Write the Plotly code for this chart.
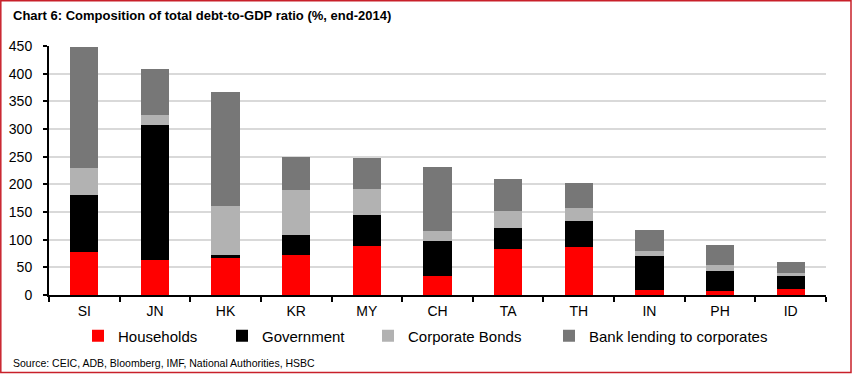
import plotly.graph_objects as go

countries = ["SI", "JN", "HK", "KR", "MY", "CH", "TA", "TH", "IN", "PH", "ID"]
households = [78, 63, 67, 73, 88, 35, 84, 86, 9, 7, 10]
government = [102, 245, 5, 35, 56, 62, 37, 48, 62, 36, 24]
corporate_bonds = [49, 17, 89, 82, 48, 19, 30, 23, 9, 11, 6]
bank_lending = [219, 83, 205, 59, 55, 116, 58, 45, 37, 36, 19]

series_names = ["Households", "Government", "Corporate Bonds", "Bank lending to corporates"]
series_values = [households, government, corporate_bonds, bank_lending]
colors = ["#FF0000", "#000000", "#B2B2B2", "#777777"]
y_ticks = [0, 50, 100, 150, 200, 250, 300, 350, 400, 450]

W, H = 852, 374
L, R, T, B = 49, 26, 46, 79
PW, PH = W - L - R, H - T - B
FONT = "Liberation Sans, Arial, sans-serif"


def px_x(px):
    return (px - L) / PW


def px_y(py):
    return (H - B - py) / PH


fig = go.Figure()
legend_ids = ["legend", "legend2", "legend3", "legend4"]
# text start positions of legend items (px)
legend_text_x = [118, 262, 408, 589]
for name, vals, col, lg in zip(series_names, series_values, colors, legend_ids):
    fig.add_trace(go.Bar(x=countries, y=vals, name=name, marker=dict(color=col, line=dict(width=0)),
                         legend=lg))

layout_legends = {}
for lg, tx in zip(legend_ids, legend_text_x):
    layout_legends[lg] = dict(
        x=(tx - 40) / W, xref="container", xanchor="left",
        y=1 - 336 / H, yref="container", yanchor="middle",
        orientation="h", font=dict(family=FONT, size=15, color="#000000"),
        bgcolor="rgba(0,0,0,0)", borderwidth=0, tracegroupgap=0,
    )

fig.update_layout(
    width=W, height=H,
    margin=dict(l=L, r=R, t=T, b=B, pad=0, autoexpand=False),
    barmode="stack", bargap=0.6,
    plot_bgcolor="white", paper_bgcolor="white",
    font=dict(family=FONT, size=14, color="#000000"),
    showlegend=True,
    **layout_legends,
)
fig.update_xaxes(
    showline=True, linecolor="#000000", linewidth=2, automargin=False,
    ticks="outside", tickson="boundaries", ticklen=5, tickwidth=2, tickcolor="#000000",
    tickfont=dict(family=FONT, size=14), showgrid=False, ticklabelstandoff=2,
)
fig.update_yaxes(
    range=[0, 450], tickvals=y_ticks, ticktext=[str(v) for v in y_ticks],
    showline=True, linecolor="#000000", linewidth=2, automargin=False,
    ticks="outside", ticklen=4, tickwidth=1.5, tickcolor="#000000",
    showgrid=True, gridcolor="#D9D9D9", gridwidth=2, zeroline=False,
    tickfont=dict(family=FONT, size=14), ticklabelstandoff=8,
)
fig.add_annotation(text="<b>Chart 6: Composition of total debt-to-GDP ratio (%, end-2014)</b>",
                   xref="paper", yref="paper", x=px_x(11), y=px_y(15),
                   xanchor="left", yanchor="middle", showarrow=False,
                   font=dict(family=FONT, size=13, color="#000000"))
fig.add_annotation(text="Source: CEIC, ADB, Bloomberg, IMF, National Authorities, HSBC",
                   xref="paper", yref="paper", x=px_x(11), y=px_y(363),
                   xanchor="left", yanchor="middle", showarrow=False,
                   font=dict(family=FONT, size=10.5, color="#000000"))
fig.add_shape(type="rect", xref="paper", yref="paper",
              x0=px_x(0.8), x1=px_x(851), y0=px_y(372.5), y1=px_y(0.8),
              line=dict(color="#C8202A", width=1.5), fillcolor="rgba(0,0,0,0)", layer="above")

fig.write_html("out.html", config={"displayModeBar": False},
               post_script="document.body.style.margin='0';")
